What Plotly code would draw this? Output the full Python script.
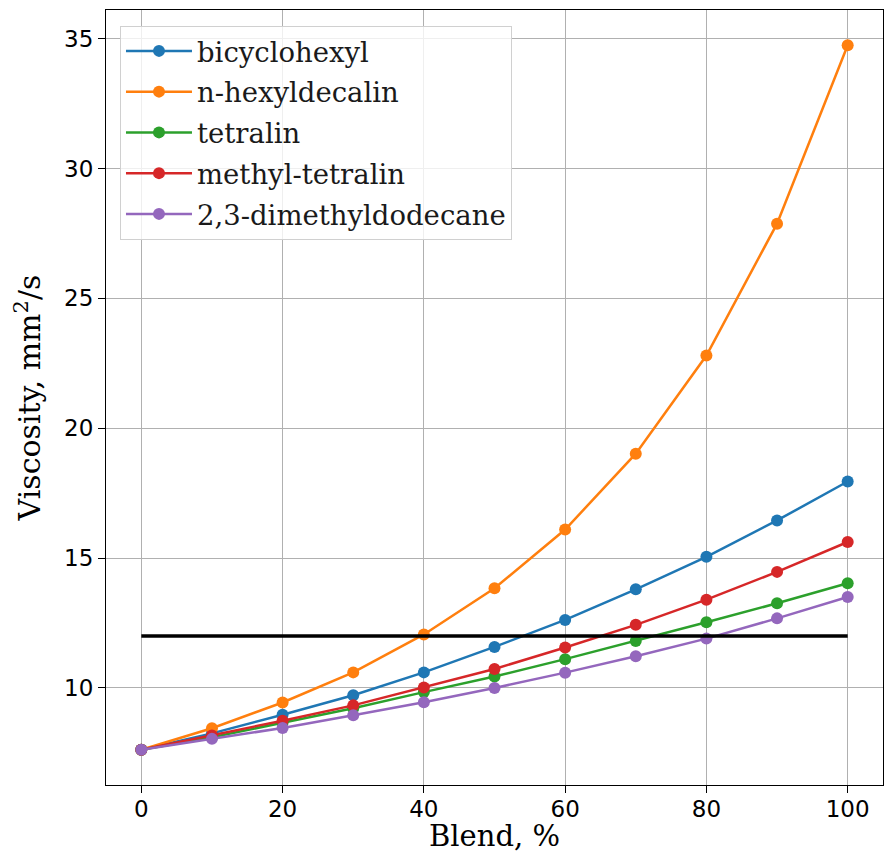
import plotly.graph_objects as go

blend = [0, 10, 20, 30, 40, 50, 60, 70, 80, 90, 100]
bicyclohexyl = [7.62, 8.25, 8.97, 9.72, 10.6, 11.58, 12.62, 13.8, 15.05, 16.45, 17.95]
n_hexyldecalin = [7.62, 8.45, 9.44, 10.6, 12.06, 13.84, 16.1, 19.02, 22.8, 27.88, 34.75]
tetralin = [7.62, 8.1, 8.66, 9.22, 9.84, 10.44, 11.11, 11.81, 12.53, 13.26, 14.03]
methyl_tetralin = [7.62, 8.17, 8.74, 9.33, 10.02, 10.73, 11.56, 12.43, 13.4, 14.47, 15.62]
dimethyldodecane = [7.62, 8.04, 8.46, 8.95, 9.45, 10.0, 10.59, 11.22, 11.9, 12.68, 13.5]
limit_x = [0, 100]
limit_y = [12.0, 12.0]

names = ["bicyclohexyl", "n-hexyldecalin", "tetralin", "methyl-tetralin", "2,3-dimethyldodecane"]
series = [bicyclohexyl, n_hexyldecalin, tetralin, methyl_tetralin, dimethyldodecane]
colors = ["#1f77b4", "#ff7f0e", "#2ca02c", "#d62728", "#9467bd"]

fig = go.Figure()
for i, (nm, ys, c) in enumerate(zip(names, series, colors)):
    fig.add_trace(go.Scatter(x=blend, y=ys, name=nm, mode="lines+markers",
                             line=dict(color=c, width=2.5),
                             marker=dict(color=c, size=12),
                             legendgroup=f"g{i}"))
fig.add_trace(go.Scatter(x=limit_x, y=limit_y, mode="lines", showlegend=False,
                         line=dict(color="black", width=3.5)))

allv = [v for s in series for v in s]
lo, hi = min(allv), max(allv)
pad = (hi - lo) * 0.05

fig.update_layout(
    width=884, height=853,
    margin=dict(l=106, r=1, t=10, b=68),
    plot_bgcolor="white", paper_bgcolor="white",
    font=dict(family="DejaVu Sans", size=23, color="black"),
    legend=dict(x=0.018, y=0.98, xanchor="left", yanchor="top",
                bgcolor="rgba(255,255,255,0.8)", bordercolor="#d0d0d0", borderwidth=1,
                font=dict(family="DejaVu Serif", size=27.5, color="#1a1a1a"),
                tracegroupgap=2, itemwidth=66),
    xaxis=dict(range=[-5, 105], tickvals=[0, 20, 40, 60, 80, 100],
               showgrid=True, gridcolor="#b0b0b0", gridwidth=1,
               showline=True, linecolor="black", linewidth=1, mirror=True,
               ticks="outside", ticklen=7, tickcolor="black", ticklabelstandoff=-4,
               zeroline=False,
               title=dict(text="Blend, %", font=dict(family="DejaVu Serif", size=29), standoff=6)),
    yaxis=dict(range=[lo - pad, hi + pad], tickvals=[10, 15, 20, 25, 30, 35],
               showgrid=True, gridcolor="#b0b0b0", gridwidth=1,
               showline=True, linecolor="black", linewidth=1, mirror=True,
               ticks="outside", ticklen=7, tickcolor="black",
               zeroline=False,
               title=dict(text="Viscosity, mm<sup>2</sup>/s", font=dict(family="DejaVu Serif", size=30), standoff=14)),
)
fig.write_html("out.html")
